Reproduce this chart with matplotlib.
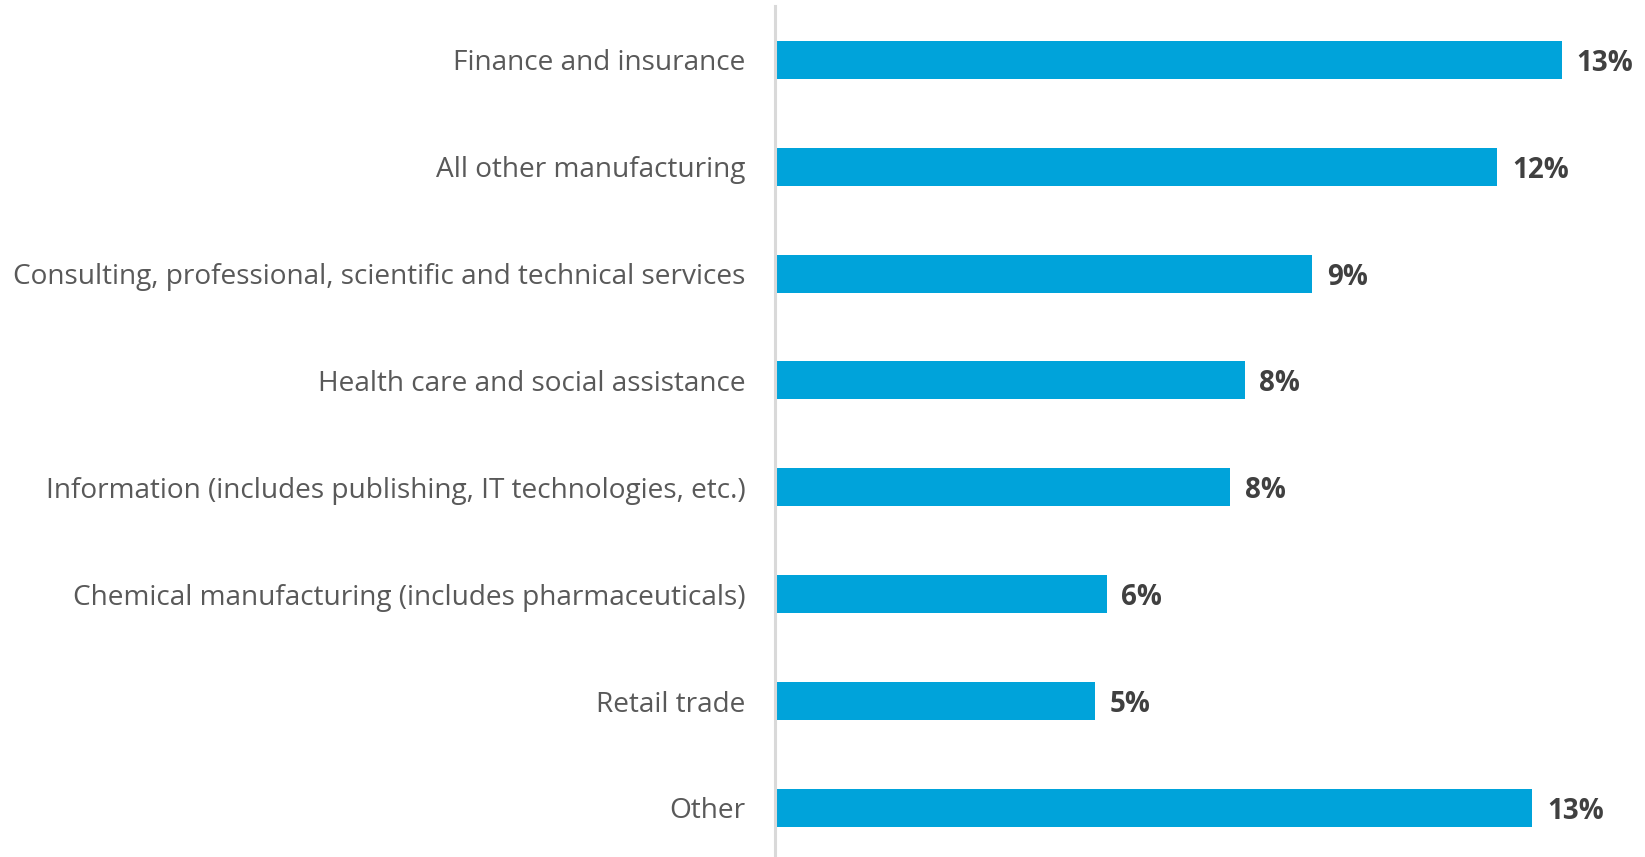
import matplotlib.pyplot as plt
import numpy as np

plt.rcParams['font.family'] = ['Open Sans', 'DejaVu Sans']

# categories top to bottom
categories = ["Finance and insurance",
              "All other manufacturing",
              "Consulting, professional, scientific and technical services",
              "Health care and social assistance",
              "Information (includes publishing, IT technologies, etc.)",
              "Chemical manufacturing (includes pharmaceuticals)",
              "Retail trade",
              "Other"]
values = [13.4, 12.3, 9.15, 8.0, 7.75, 5.65, 5.45, 12.9]

fig = plt.figure(figsize=(16.45, 8.57), dpi=100)
ax = fig.add_axes([775 / 1645, -4.4 / 857, (1597 - 775) / 1645, 855 / 857])

y = np.arange(len(categories))
ax.barh(y, values, height=0.355, color='#00a3da')

for yi, v in zip(y, values):
    ax.text(v + 0.25, yi, f"{v:.0f}%", va='center_baseline', ha='left',
            fontsize=20, fontweight='bold', color='#404040', clip_on=False)

ax.set_yticks(y)
ax.set_yticklabels(categories, fontsize=20.2, color='#595959')
ax.tick_params(axis='y', length=0, pad=21)
ax.set_xticks([])
ax.set_xlim(0, 14)
ax.set_ylim(len(categories) - 0.5, -0.5)

for s in ['top', 'right', 'bottom']:
    ax.spines[s].set_visible(False)
ax.spines['left'].set_color('#d9d9d9')
ax.spines['left'].set_linewidth(2.2)

fig.savefig('out.png', dpi=100)
